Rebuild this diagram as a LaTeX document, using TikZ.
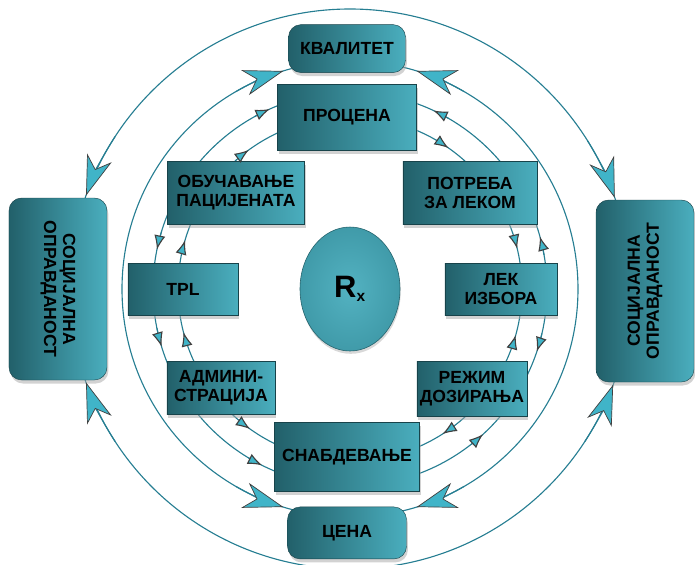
\documentclass[tikz,border=0pt]{standalone}
\usepackage{fontspec}
\setmainfont{Liberation Sans}
\usetikzlibrary{arrows.meta, positioning, shapes.geometric, shadows}
\definecolor{boxdark}{RGB}{34,96,106}
\definecolor{boxlight}{RGB}{74,174,190}
\definecolor{ringcol}{RGB}{38,126,146}
\definecolor{tipfill}{RGB}{64,180,200}
\tikzset{box/.style={rectangle,draw=boxdark!70!black,line width=0.3pt,left color=boxdark,right color=boxlight,align=center,inner sep=2pt,font=\bfseries\fontsize{12.5}{13.5}\selectfont,drop shadow={shadow xshift=1pt,shadow yshift=-2.5pt,fill=gray!70}},
roundbox/.style={box,rounded corners=9pt},
sidebox/.style={roundbox,minimum width=4.55cm,minimum height=2.45cm},
ring/.style={draw=ringcol,line width=0.8pt},
bigtip/.style={-{Stealth[length=10mm,width=6.5mm,inset=3mm,fill=tipfill,color=black!75,line width=0.5pt]}},
smalltip/.style={-{Latex[length=3.6mm,width=2.8mm,fill=tipfill,color=black!75]}}}

\begin{document}
\begin{tikzpicture}[node distance=3mm]
\clip (-8.75,-6.875) rectangle (8.625,7.225);
% rings
\foreach \r in {7.0,5.7,4.925,4.3}
  \draw[ring] (0,0) circle[radius=\r];
% centre
\node[ellipse,draw=boxdark,inner color=boxlight!95!white,outer color=boxlight!75!boxdark,minimum width=2.5cm,minimum height=3.1cm,font=\bfseries\fontsize{22}{24}\selectfont,drop shadow={shadow xshift=0.5pt,shadow yshift=-2pt,fill=gray!60}] (rx) at (0,0) {R\textsubscript{\fontsize{11}{11}\selectfont x}};
% inner boxes
\node[box,minimum width=3.475cm,minimum height=1.65cm] (procena) at (-0.075,4.3) {ПРОЦЕНА};
\node[box,minimum width=3.35cm,minimum height=1.575cm] (potreba) at (3.0,2.4) {ПОТРЕБА\\ЗА ЛЕКОМ};
\node[box,minimum width=2.8cm,minimum height=1.3cm] (lek) at (3.775,0) {ЛЕК\\ИЗБОРА};
\node[box,minimum width=2.75cm,minimum height=1.375cm] (rezim) at (3.05,-2.5) {РЕЖИМ\\ДОЗИРАЊА};
\node[box,minimum width=3.625cm,minimum height=1.725cm] (snabd) at (-0.075,-4.2) {СНАБДЕВАЊЕ};
\node[box,minimum width=2.7cm,minimum height=1.325cm] (admin) at (-3.225,-2.475) {АДМИНИ-\\СТРАЦИЈА};
\node[box,minimum width=2.75cm,minimum height=1.3cm] (tpl) at (-4.175,0) {TPL};
\node[box,minimum width=3.425cm,minimum height=1.575cm] (obuc) at (-2.85,2.4) {ОБУЧАВАЊЕ\\ПАЦИЈЕНАТА};
% outer boxes
\node[roundbox,minimum width=2.925cm,minimum height=1.2cm,above=2.75mm of procena] (kval) {КВАЛИТЕТ};
\node[roundbox,minimum width=2.975cm,minimum height=1.3cm,below=3.75mm of snabd] (cena) {ЦЕНА};
\node[sidebox,rotate=-90] (socl) at (-7.3,0) {СОЦИЈАЛНА\\ОПРАВДАНОСТ};
\node[sidebox,rotate=90] (socr) at (7.375,-0.05) {СОЦИЈАЛНА\\ОПРАВДАНОСТ};
% big arrows
\foreach \r/\a/\b in {7.0/147/160.5,7.0/32/19,7.0/213/199.5,7.0/-33/-20,5.7/120/107,5.7/60/73,5.7/240/253,5.7/300/287}
  \draw[ring,bigtip] (\a:\r) arc[start angle=\a,end angle=\b,radius=\r];
% small arrows
\foreach \r/\a/\b in {4.925/119/114,4.925/60/65,4.925/163/168.5,4.925/191.5/197,4.925/10/15.5,4.925/-13/-18.5,4.925/239/243.5,4.925/308/312.5,4.3/130.5/126,4.3/60/55,4.3/168/163.5,4.3/199/194.5,4.3/18/13.5,4.3/-20/-15.5,4.3/230/234.5,4.3/307/302.5}
  \draw[ring,smalltip] (\a:\r) arc[start angle=\a,end angle=\b,radius=\r];
\end{tikzpicture}
\end{document}
